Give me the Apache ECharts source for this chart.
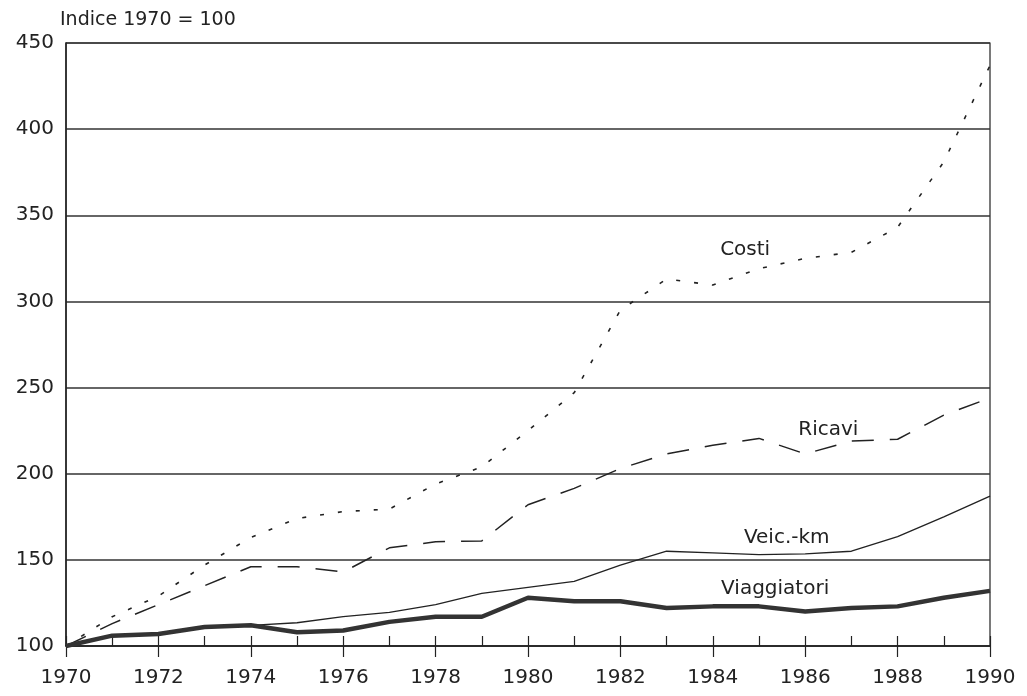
<!DOCTYPE html>
<html lang="it">
<head>
  <meta charset="UTF-8">
  <title>Indice 1970 = 100</title>
  <script src="https://cdn.jsdelivr.net/npm/echarts@6/dist/echarts.min.js"></script>
  <style>
    html, body { margin: 0; padding: 0; background: #fff; }
    #chart { width: 1027px; height: 696px; }
  </style>
</head>
<body>
  <div id="chart"></div>
  <script>
    // dati (indice 1970 = 100)
    const years = [1970, 1971, 1972, 1973, 1974, 1975, 1976, 1977, 1978, 1979, 1980,
                   1981, 1982, 1983, 1984, 1985, 1986, 1987, 1988, 1989, 1990];
    const costi = [100, 117, 129, 147, 163, 174, 178, 179.5, 194, 204, 225,
                   247, 295, 313, 309.5, 319, 325, 328.5, 343, 381, 437];
    const ricavi = [100, 113, 124, 135, 146, 146, 143, 157, 160.5, 161, 182,
                    191.5, 203, 211.5, 216.5, 220.5, 211.5, 219, 220, 234, 244];
    const veicKm = [100, 106, 107, 111, 112, 113.5, 117, 119.5, 124, 130.5, 134,
                    137.5, 147, 155, 154, 153, 153.5, 155, 163.5, 175, 187];
    const viaggiatori = [100, 106, 107, 111, 112, 108, 109, 114, 117, 117, 128,
                         126, 126, 122, 123, 123, 120, 122, 123, 128, 132];

    // etichette delle serie dentro il grafico
    const seriesLabels = [
      { name: 'Costi', coord: [1984.7, 330] },
      { name: 'Ricavi', coord: [1986.5, 225.5] },
      { name: 'Veic.-km', coord: [1985.6, 163] },
      { name: 'Viaggiatori', coord: [1985.35, 133] }
    ];

    const yTitle = 'Indice 1970 = 100';
    const font = 'DejaVu Sans';
    const ink = '#222';

    function pairs(vals) {
      return years.map((y, i) => [y, vals[i]]);
    }

    function label(idx) {
      const l = seriesLabels[idx];
      return {
        symbol: 'circle',
        symbolSize: 0,
        silent: true,
        label: {
          show: true,
          position: 'inside',
          color: ink,
          fontFamily: font,
          fontSize: 20,
          formatter: '{b}'
        },
        data: [{ name: l.name, coord: l.coord }]
      };
    }

    const chart = echarts.init(document.getElementById('chart'), null, { renderer: 'canvas' });

    chart.setOption({
      animation: false,
      backgroundColor: '#fff',
      grid: {
        left: 66, right: 37, top: 43, bottom: 50,
        show: true, borderColor: ink, borderWidth: 1.2
      },
      graphic: [{
        type: 'text',
        left: 60, top: 11,
        style: { text: yTitle, fill: ink, font: '19px "' + font + '"' }
      }],
      xAxis: [{
        type: 'value',
        min: 1970, max: 1990, interval: 1,
        axisLine: { show: true, onZero: false, lineStyle: { color: ink, width: 1.5 } },
        axisTick: { show: true, inside: true, length: 10, lineStyle: { color: ink, width: 1.2 } },
        axisLabel: {
          color: ink, fontFamily: font, fontSize: 20, margin: 22,
          formatter: v => (v % 2 === 0 ? String(v) : '')
        },
        splitLine: { show: false }
      }, {
        type: 'value',
        position: 'bottom',
        min: 1970, max: 1990, interval: 2,
        axisLine: { show: false },
        axisTick: { show: true, inside: false, length: 11, lineStyle: { color: ink, width: 1.2 } },
        axisLabel: { show: false },
        splitLine: { show: false }
      }],
      yAxis: {
        type: 'value',
        min: 100, max: 450, interval: 50,
        axisLine: { show: true, lineStyle: { color: ink, width: 1.5 } },
        axisTick: { show: false },
        axisLabel: { color: ink, fontFamily: font, fontSize: 20, margin: 12 },
        splitLine: { show: true, lineStyle: { color: '#333', width: 1.6 } }
      },
      series: [
        {
          name: 'Costi', type: 'line', data: pairs(costi), showSymbol: false,
          lineStyle: { color: ink, width: 1.6, type: [4, 14] },
          markPoint: label(0)
        },
        {
          name: 'Ricavi', type: 'line', data: pairs(ricavi), showSymbol: false,
          lineStyle: { color: ink, width: 1.5, type: [22, 16] },
          markPoint: label(1)
        },
        {
          name: 'Veic.-km', type: 'line', data: pairs(veicKm), showSymbol: false,
          lineStyle: { color: ink, width: 1.3 },
          markPoint: label(2)
        },
        {
          name: 'Viaggiatori', type: 'line', data: pairs(viaggiatori), showSymbol: false,
          lineStyle: { color: '#333', width: 4.5 },
          markPoint: label(3)
        }
      ]
    });

    window.addEventListener('resize', () => chart.resize());
  </script>
</body>
</html>
